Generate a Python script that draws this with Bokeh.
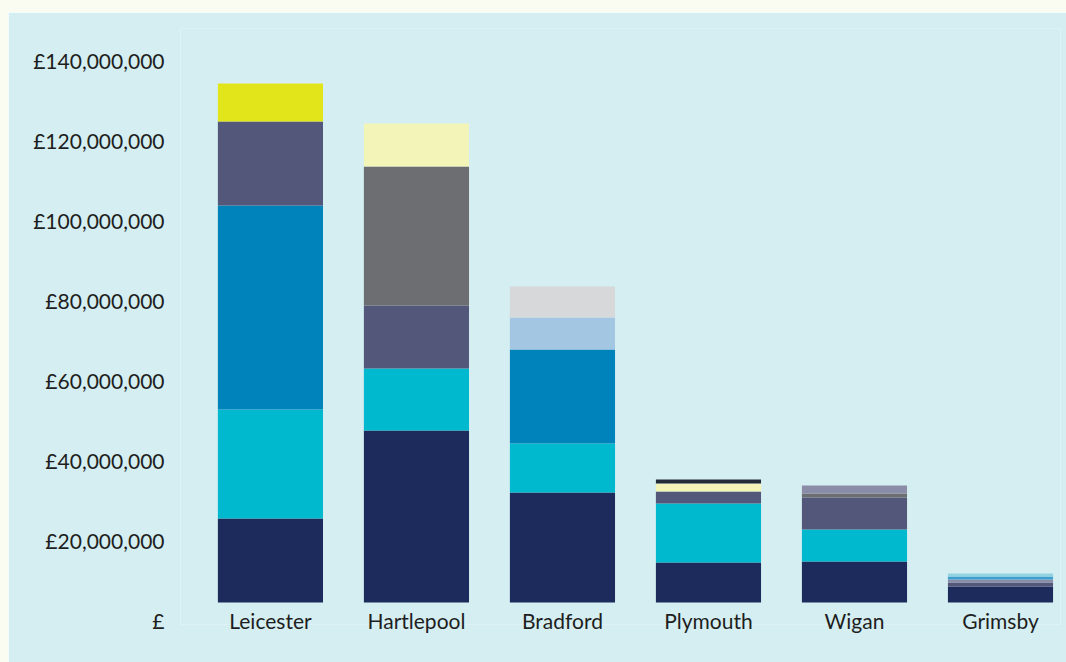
from bokeh.plotting import figure
from bokeh.models import ColumnDataSource, Range1d, LinearAxis, FixedTicker, Spacer
from bokeh.layouts import column, row
from bokeh.embed import file_html
from bokeh.resources import INLINE

regions = ["Leicester", "Hartlepool", "Bradford", "Plymouth", "Wigan", "Grimsby"]

# stacked segment values (GBP), bottom to top
seg1 = [21.0e6, 43.0e6, 27.5e6, 10.0e6, 10.25e6, 4.0e6]
seg2 = [27.25e6, 15.5e6, 12.25e6, 14.75e6, 8.0e6, 1.0e6]
seg3 = [51.0e6, 15.75e6, 23.5e6, 3.0e6, 8.0e6, 0.75e6]
seg4 = [21.0e6, 34.75e6, 8.0e6, 2.0e6, 1.0e6, 0.75e6]
seg5 = [9.5e6, 10.75e6, 7.75e6, 1.0e6, 2.0e6, 0.75e6]

col1 = ["#1d2b5c", "#1d2b5c", "#1d2b5c", "#1d2b5c", "#1d2b5c", "#1d2b5c"]
col2 = ["#00b9cf", "#00b9cf", "#00b9cf", "#00b9cf", "#00b9cf", "#535779"]
col3 = ["#0083bb", "#535779", "#0083bb", "#535779", "#535779", "#8b8ca8"]
col4 = ["#535779", "#6d6e72", "#a3c6e2", "#f3f4b8", "#6d6e72", "#3f9fcf"]
col5 = ["#e2e51a", "#f3f4b8", "#d7d8da", "#222b3a", "#8b8ca8", "#93d2e0"]

tick_values = [0, 20e6, 40e6, 60e6, 80e6, 100e6, 120e6, 140e6]
tick_labels = ["£", "£20,000,000", "£40,000,000", "£60,000,000", "£80,000,000",
               "£100,000,000", "£120,000,000", "£140,000,000"]

BG = "#d4eef1"
PAGE = "#fafcf1"
FONT = "Lato"
FS = "21px"

positions = list(range(len(regions)))
xs, bottoms, tops, colors = [], [], [], []
base = [0.0] * len(regions)
for seg, col in [(seg1, col1), (seg2, col2), (seg3, col3), (seg4, col4), (seg5, col5)]:
    for i in positions:
        xs.append(positions[i])
        bottoms.append(base[i])
        tops.append(base[i] + seg[i])
        colors.append(col[i])
        base[i] += seg[i]

src = ColumnDataSource(dict(x=xs, bottom=bottoms, top=tops, color=colors))

y_start, y_end = -5.5e6, 143.5e6
label_shift = 4.5e6

p = figure(
    width=1058, height=650,
    x_range=Range1d(-0.616, 5.411),
    y_range=Range1d(y_start, y_end),
    output_backend="svg", toolbar_location=None,
    y_axis_location=None,
    min_border_top=16, min_border_left=172, min_border_right=6, min_border_bottom=38,
)
p.extra_y_ranges = {"labels": Range1d(y_start + label_shift, y_end + label_shift)}

p.vbar(x="x", bottom="bottom", top="top", width=0.72, color="color",
       line_color=None, source=src)

yaxis = LinearAxis(y_range_name="labels", ticker=FixedTicker(ticks=tick_values))
yaxis.major_label_overrides = {v: t for v, t in zip(tick_values, tick_labels)}
yaxis.axis_line_color = None
yaxis.major_tick_line_color = None
yaxis.minor_tick_line_color = None
yaxis.major_label_standoff = 10
yaxis.major_label_text_font = FONT
yaxis.major_label_text_font_size = FS
yaxis.major_label_text_color = "#1e1e1e"
p.add_layout(yaxis, "left")

xa = p.xaxis[0]
xa.ticker = FixedTicker(ticks=positions)
xa.major_label_overrides = {i: r for i, r in zip(positions, regions)}
xa.axis_line_color = None
xa.major_tick_line_color = None
xa.minor_tick_line_color = None
xa.major_tick_out = 0
xa.major_label_standoff = -17
xa.major_label_text_font = FONT
xa.major_label_text_font_size = FS
xa.major_label_text_color = "#1e1e1e"

p.xgrid.grid_line_color = None
p.ygrid.grid_line_color = None
p.outline_line_color = None
p.background_fill_color = BG
p.border_fill_color = BG

top_pad = Spacer(width=1066, height=12, styles={"background-color": PAGE})
left_pad = Spacer(width=8, height=650, styles={"background-color": PAGE})
layout = column(top_pad, row(left_pad, p), spacing=0)

open("out.html", "w").write(file_html(layout, INLINE))
